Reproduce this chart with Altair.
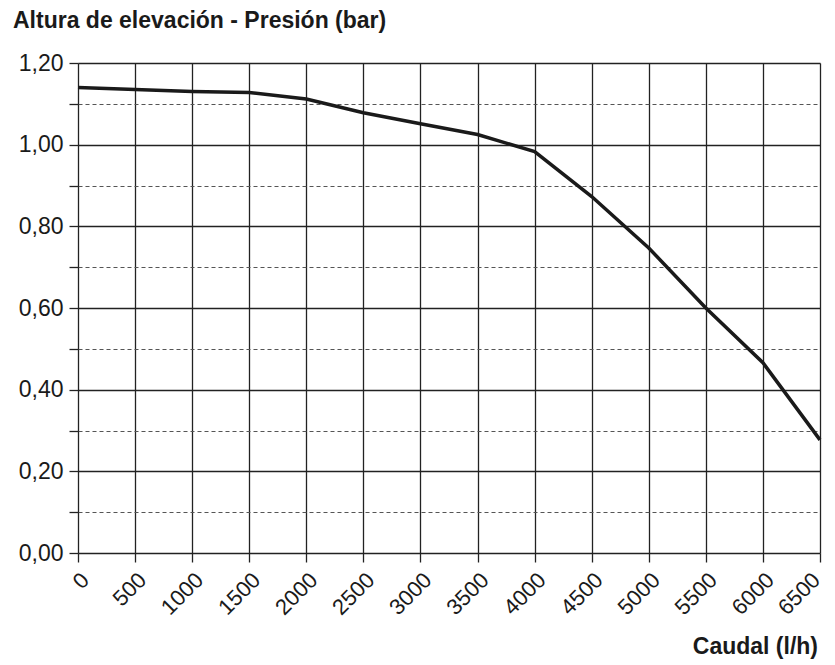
import altair as alt
import pandas as pd

flow = [0, 500, 1000, 1500, 2000, 2500, 3000, 3500, 4000, 4500, 5000, 5500, 6000, 6500]
pressure = [1.14, 1.135, 1.13, 1.128, 1.112, 1.078, 1.051, 1.025, 0.983, 0.873, 0.747, 0.600, 0.466, 0.277]
x_ticks = list(range(0, 6501, 500))
y_ticks = [round(i * 0.1, 1) for i in range(13)]
title_text = "Altura de elevación - Presión (bar)"
xtitle_text = "Caudal (l/h)"

FONT = "Liberation Sans"
df = pd.DataFrame({"flow": flow, "pressure": pressure})

minor = "round(datum.value*10) % 2 == 1"

line = alt.Chart(df).mark_line(color="#1a1a1a", strokeWidth=3.5).encode(
    x=alt.X("flow:Q", scale=alt.Scale(domain=[0, 6500], nice=False, zero=False),
            axis=alt.Axis(values=x_ticks, format="d", title=None, labelAngle=-45, labelFontSize=22,
                          labelFont=FONT, labelColor="#1a1a1a", tickSize=9, tickColor="#222",
                          tickWidth=1.3, domain=False, grid=True, gridColor="#222",
                          gridWidth=1.3, labelPadding=7, labelFlush=False, labelOverlap=False,
                          labelOffset={"condition": {"test": "datum.value >= 6500", "value": -11}, "value": 0})),
    y=alt.Y("pressure:Q", scale=alt.Scale(domain=[0, 1.2], nice=False, zero=False),
            axis=alt.Axis(values=y_ticks, title=None,
                          labelExpr=minor + " ? '' : replace(format(datum.value, '.2f'), '.', ',')",
                          labelFontSize=23, labelFont=FONT, labelColor="#1a1a1a", tickSize=9,
                          tickColor="#222", tickWidth=1.3, domain=False, grid=True,
                          gridColor={"condition": {"test": minor, "value": "#555"}, "value": "#222"},
                          gridDash={"condition": {"test": minor, "value": [4, 3]}, "value": []},
                          gridWidth={"condition": {"test": minor, "value": 1.1}, "value": 1.3},
                          labelPadding=6, labelFlush=False, labelOverlap=False)),
)

title = alt.Chart(pd.DataFrame({"t": [title_text]})).mark_text(
    align="left", baseline="alphabetic", font=FONT, fontSize=23, fontWeight="bold", color="#1a1a1a"
).encode(text="t:N", x=alt.value(-65), y=alt.value(-35))

xtitle = alt.Chart(pd.DataFrame({"t": [xtitle_text]})).mark_text(
    align="right", baseline="alphabetic", font=FONT, fontSize=23, fontWeight="bold", color="#1a1a1a"
).encode(text="t:N", x=alt.value(740), y=alt.value(591))

chart = alt.layer(line, title, xtitle).properties(
    width=742, height=490,
    autosize=alt.AutoSizeParams(type="none"),
    padding={"left": 70, "top": 55, "right": 7, "bottom": 110},
).configure_view(stroke=None).configure(background="white")

chart.save("out.html", embed_options={"renderer": "svg", "actions": False})
